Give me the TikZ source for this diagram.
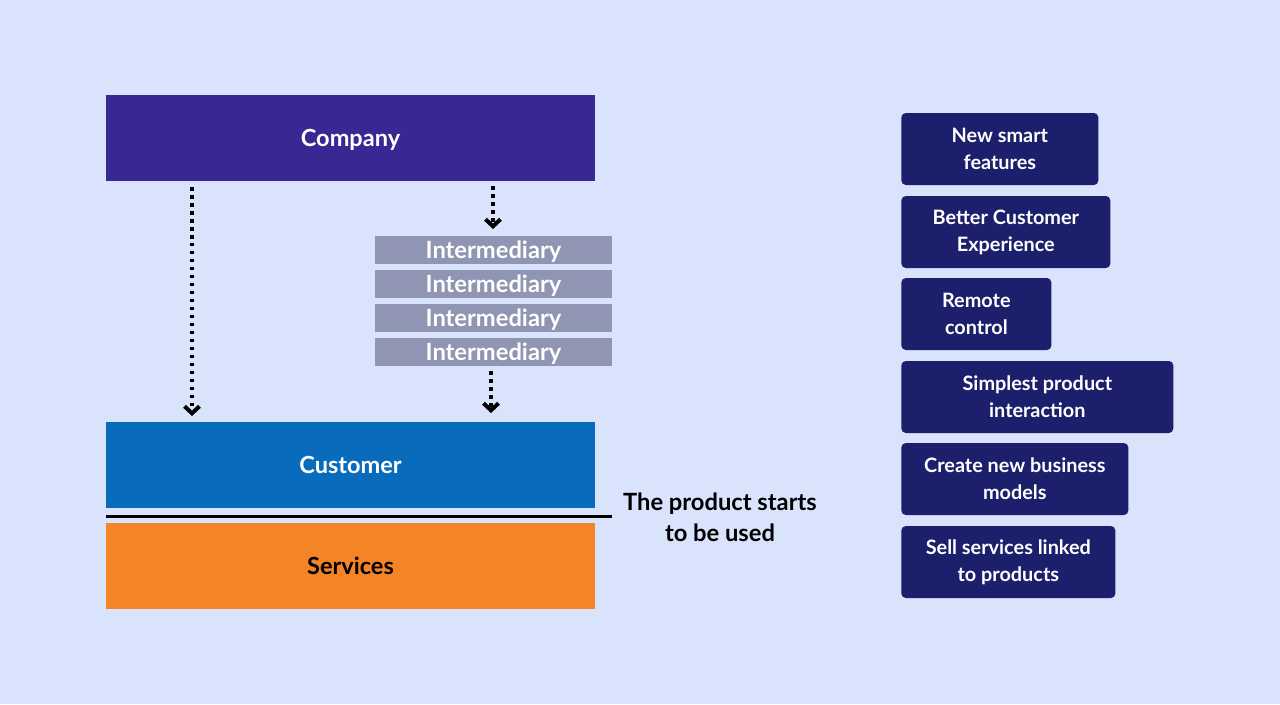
\documentclass[tikz,border=0pt]{standalone}
\usepackage{fontspec}
\setmainfont{Lato}
\usetikzlibrary{arrows.meta}
\definecolor{bgblue}{RGB}{217,227,252}
\definecolor{company}{RGB}{55,40,147}
\definecolor{customer}{RGB}{8,107,187}
\definecolor{services}{RGB}{245,132,38}
\definecolor{middle}{RGB}{143,149,178}
\definecolor{navy}{RGB}{28,31,108}
\tikzset{
  {band/.style} ={rectangle, minimum width=9.78cm, minimum height=1.72cm,
                  inner sep=0, text height=0.34cm, text depth=0cm,
                  font=\fontsize{13.4}{15}\selectfont\bfseries},
  {middle box/.style} ={rectangle, fill=middle, text=white, minimum width=4.74cm,
                  minimum height=0.56cm, inner sep=0, text height=0.34cm, text depth=0.02cm,
                  font=\fontsize{13.5}{14}\selectfont\bfseries},
  {feature/.style} ={rectangle, rounded corners=2.5pt, fill=navy, text=white,
                  anchor=west, minimum width=#1, minimum height=1.44cm,
                  align=center, inner sep=0,
                  font=\fontsize{11.3}{15.3}\selectfont\bfseries},
  {dots/.style} ={line width=0.07cm, dash pattern=on 0.07cm off 0.09cm,
                  -{Straight Barb[length=0.14cm,width=0.3cm,line width=0.08cm]}},
}
\begin{document}
\begin{tikzpicture}[x=0.02cm,y=-0.02cm]
\fill[bgblue] (0,0) rectangle (1280,704);
% left column
\node[band, fill=company, text=white] (Company) at (350.5,138) {Company};
\node[band, fill=customer, text=white] (Customer) at (350.5,465) {Customer};
\node[band, fill=services, text=black] (Services) at (350.5,565.5) {Services};
\foreach \i/\y in {1/250,2/284,3/318,4/352}
  \node[middle box] (I\i) at (493.5,\y) {Intermediary};
% dotted arrows
\coordinate (a1) at (192,187);
\coordinate (a2) at (192,416);
\coordinate (b1) at (493,186);
\coordinate (b2) at (493,229);
\coordinate (c1) at (491,371);
\coordinate (c2) at (491,413);
\draw[dots] (a1) -- (a2);
\draw[dots] (b1) -- (b2);
\draw[dots] (c1) -- (c2);
% usage line
\coordinate (u1) at (106,516);
\coordinate (u2) at (612,516);
\draw[line width=0.06cm] (u1) -- (u2);
\node[align=center, font=\fontsize{13.5}{17.8}\selectfont\bfseries] (use) at (720,517)
  {The product starts\\to be used};
% features
\node[feature=3.94cm] (F1) at (901,149) {New smart\\features};
\node[feature=4.18cm] (F2) at (901,232) {Better Customer\\Experience};
\node[feature=3.00cm] (F3) at (901,314) {Remote\\control};
\node[feature=5.44cm] (F4) at (901,397) {Simplest product\\interaction};
\node[feature=4.54cm] (F5) at (901,479) {Create new business\\models};
\node[feature=4.28cm] (F6) at (901,562) {Sell services linked\\to products};
\end{tikzpicture}
\end{document}
